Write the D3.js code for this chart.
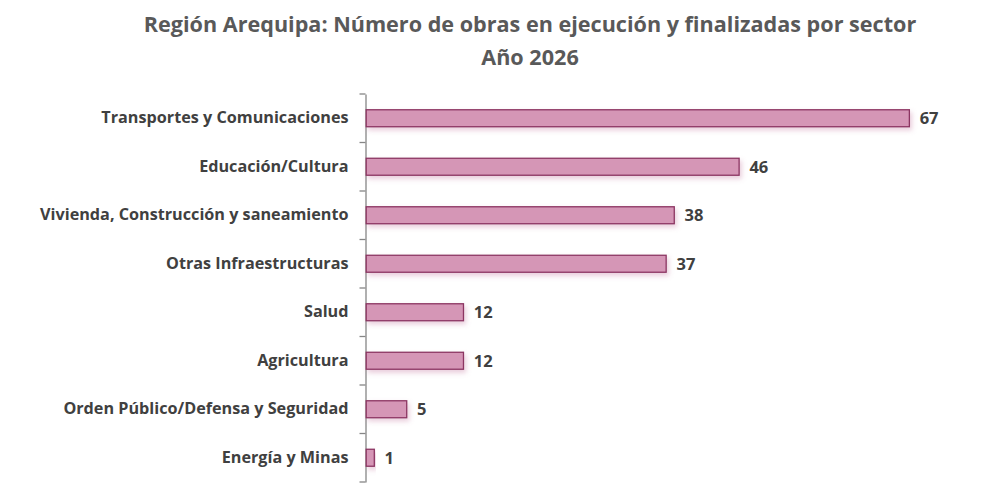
<!DOCTYPE html>
<html>
<head>
<meta charset="utf-8">
<script src="https://cdn.jsdelivr.net/npm/d3@7"></script>
<style>
  body { margin: 0; background: #fff; }
  text { font-family: "Open Sans", "DejaVu Sans", sans-serif; font-weight: bold; }
</style>
</head>
<body>
<div id="chart"></div>
<script>
// ************** data *****************
var sectores = ["Transportes y Comunicaciones", "Educación/Cultura",
  "Vivienda, Construcción y saneamiento", "Otras Infraestructuras",
  "Salud", "Agricultura", "Orden Público/Defensa y Seguridad", "Energía y Minas"];
var obras = [67, 46, 38, 37, 12, 12, 5, 1];
var titulo = ["Región Arequipa: Número de obras en ejecución y finalizadas por sector", "Año 2026"];

var widthTotal = 990, heightTotal = 500;
var margin = {top: 94, right: 57, bottom: 18, left: 365.5};
var width = widthTotal - margin.left - margin.right,
    height = heightTotal - margin.top - margin.bottom;

var svg = d3.select("#chart").append("svg")
  .attr("width", widthTotal)
  .attr("height", heightTotal);

// shadow filter
var defs = svg.append("defs");
var f = defs.append("filter").attr("id", "sombra")
  .attr("x", "-10%").attr("y", "-40%").attr("width", "130%").attr("height", "200%");
f.append("feGaussianBlur").attr("in", "SourceAlpha").attr("stdDeviation", 2.5).attr("result", "b");
f.append("feOffset").attr("in", "b").attr("dx", 2).attr("dy", 3).attr("result", "o");
f.append("feFlood").attr("flood-color", "#c0709a").attr("flood-opacity", 0.35);
f.append("feComposite").attr("in2", "o").attr("operator", "in").attr("result", "s");
var m = f.append("feMerge");
m.append("feMergeNode").attr("in", "s");
m.append("feMergeNode").attr("in", "SourceGraphic");

// title
svg.append("g").selectAll("text")
  .data(titulo)
  .enter()
  .append("text")
  .attr("x", 530)
  .attr("y", function(d, i) { return 32 + i * 32.5; })
  .attr("text-anchor", "middle")
  .attr("font-size", "21.6px")
  .attr("fill", "#595959")
  .text(function(d) { return d; });

var g = svg.append("g")
  .attr("transform", "translate(" + margin.left + "," + margin.top + ")");

var x = d3.scaleLinear().domain([0, 70]).range([0, 8.107 * 70]);
var y = d3.scaleBand().domain(sectores).range([0, height]).paddingInner(0.65).paddingOuter(0.325);

// axis
var yAxis = d3.axisLeft(y).tickSize(0).tickPadding(17).tickFormat(function(d) { return d; });
var ax = g.append("g").call(yAxis);
ax.select(".domain").attr("stroke", "#868686").attr("stroke-width", 1.3);
ax.selectAll("text")
  .attr("font-size", "16.2px")
  .attr("fill", "#404040")
  .attr("font-family", "'Open Sans', sans-serif")
  .attr("font-weight", "bold");

// tick marks at the band boundaries
var step = y.step();
g.append("g").selectAll("line")
  .data(d3.range(sectores.length + 1))
  .enter()
  .append("line")
  .attr("x1", -6).attr("x2", 0)
  .attr("y1", function(d) { return d * step; })
  .attr("y2", function(d) { return d * step; })
  .attr("stroke", "#868686")
  .attr("stroke-width", 1.3);

// bars
g.append("g").selectAll("rect")
  .data(obras)
  .enter()
  .append("rect")
  .attr("x", 0.7)
  .attr("y", function(d, i) { return y(sectores[i]); })
  .attr("width", function(d) { return x(d); })
  .attr("height", y.bandwidth())
  .attr("fill", "#d596b6")
  .attr("stroke", "#8c3562")
  .attr("stroke-width", 1.3)
  .attr("filter", "url(#sombra)");

// value labels
g.append("g").selectAll("text")
  .data(obras)
  .enter()
  .append("text")
  .attr("x", function(d) { return x(d) + 11; })
  .attr("y", function(d, i) { return y(sectores[i]) + y.bandwidth() / 2; })
  .attr("dy", "0.36em")
  .attr("font-size", "16.5px")
  .attr("fill", "#404040")
  .text(function(d) { return d; });
</script>
</body>
</html>
